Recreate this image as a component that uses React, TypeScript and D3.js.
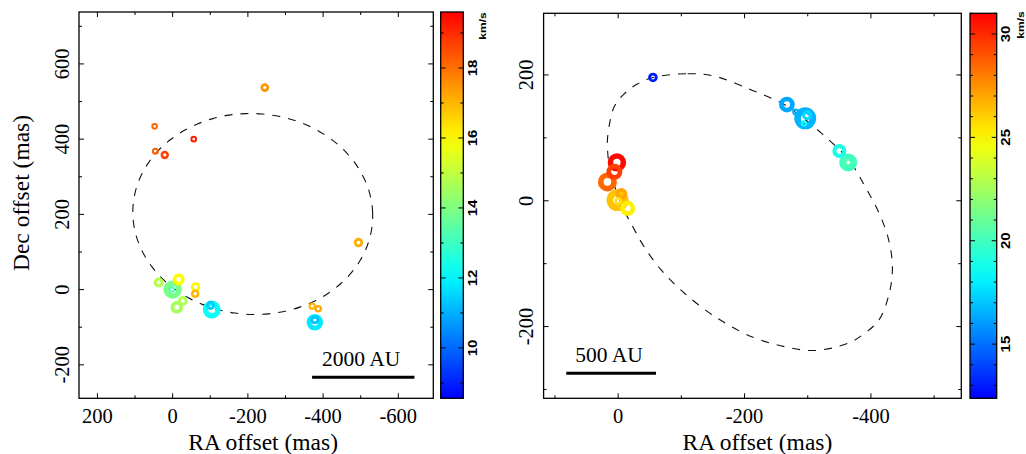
import React from "react";
import * as d3 from "d3";

// ---------- Left panel data (mas, km/s, arbitrary flux) ----------
const L_RA = [-245, 48, 46, 21, -56, -494, 37, 0, 2, -16, -61, -60, -27, -11, -104, -101, -371, -387, -378, -378];
const L_DEC = [537, 434, 368, 358, 400, 125, 19, 0, 0, 27, 7, -11, -30, -47, -53, -42, -44, -51, -87, -80];
const L_VEL = [17.5, 18.2, 18.2, 18.7, 19.2, 17.1, 14.8, 13.9, 13.2, 16.0, 16.1, 17.0, 14.7, 14.6, 12.2, 11.4, 17.0, 17.2, 11.8, 11.2];
const L_FLUX = [14, 6.4, 7.7, 13, 6.4, 18, 21, 93, 6, 33, 18, 14, 19, 38, 88, 16, 9, 10, 73, 16];

// fitted ellipse (centre RA, centre Dec, semi-axes, rotation deg)
const L_ELLIPSE = { ra0: -213, dec0: 201, a: 319, b: 267, rot: -3 };

// ---------- Right panel data ----------
const R_RA = [-55, -267, -296, -281, -299, -294, -350, -364, -364, 2, 6, 17, 1, -5, -15, 0];
const R_DEC = [196, 153, 131, 141, 136, 123, 79, 61, 61, 61, 46, 30, 1, 11, -12, 0];
const R_VEL = [13.0, 16.3, 16.6, 16.5, 17.4, 18.5, 19.0, 20.0, 20.4, 30.8, 29.5, 28.5, 26.3, 27.0, 25.2, 25.6];
const R_FLUX = [19, 65, 139, 8, 20, 6, 49, 88, 14, 93, 67, 100, 139, 33, 58, 10];

// orbit curve
const R_CURVE_RA = [-55, -110, -153, -211, -259, -291, -322, -365, -391, -413, -428, -434, -429, -413, -391, -365, -312, -264, -211, -153, -105, -68, -41, -23, -9.5, 11.7, 17, 16, 6.5, -9.6, -31];
const R_CURVE_DEC = [196, 202, 198, 176, 155, 133, 107, 65, 22, -20, -62, -105, -147, -189, -210, -226, -238, -232, -216, -184, -147, -110, -73, -41, -15, 43, 86, 107, 149, 170, 186];

// ---------- axes ----------
const L_XMAJOR = [200, 0, -200, -400, -600];
const L_XMINOR = [100, -100, -300, -500];
const L_YMAJOR = [-200, 0, 200, 400, 600];
const L_YMINOR = [-100, 100, 300, 500, 700];
const L_CBMAJOR = [10, 12, 14, 16, 18];
const L_CBMINOR = [9, 11, 13, 15, 17, 19];

const R_XMAJOR = [0, -200, -400];
const R_XMINOR = [100, -100, -300, -500];
const R_YMAJOR = [-200, 0, 200];
const R_YMINOR = [-300, -100, 100];
const R_CBMAJOR = [15, 20, 25, 30];
const R_CBMINOR = [13, 14, 16, 17, 18, 19, 21, 22, 23, 24, 26, 27, 28, 29, 31];

const jet = d3
  .scaleLinear<string>()
  .domain([0, 0.32, 0.67, 1])
  .range(["rgb(0,0,255)", "rgb(0,255,255)", "rgb(255,255,0)", "rgb(255,0,0)"])
  .interpolate(d3.interpolateRgb)
  .clamp(true);

const SERIF = "'Liberation Serif', 'Times New Roman', serif";
const SANS = "'Liberation Sans', Arial, sans-serif";

type PanelProps = {
  id: string;
  x0: number; x1: number; y0: number; y1: number;
  xDom: [number, number]; yDom: [number, number];
  xMajor: number[]; xMinor: number[]; yMajor: number[]; yMinor: number[];
  ra: number[]; dec: number[]; vel: number[]; flux: number[];
  vDom: [number, number];
  cb: { x0: number; x1: number; y0: number; y1: number };
  cbMajor: number[]; cbMinor: number[];
  curve: [number, number][];
  bar: { raA: number; raB: number; dec: number; label: string };
  showYLabel: boolean;
};

function Panel(p: PanelProps) {
  const x = d3.scaleLinear().domain(p.xDom).range([p.x0, p.x1]);
  const y = d3.scaleLinear().domain(p.yDom).range([p.y1, p.y0]);
  const cbY = d3.scaleLinear().domain(p.vDom).range([p.cb.y1, p.cb.y0]);
  const rScale = d3.scaleSqrt().domain([0, 100]).range([0, 8.3]);
  const radius = (f: number) => 1.2 + rScale(f);
  const frac = (v: number) => (v - p.vDom[0]) / (p.vDom[1] - p.vDom[0]);

  const line = d3
    .line<[number, number]>()
    .x((d) => x(d[0]))
    .y((d) => y(d[1]))
    .curve(d3.curveCatmullRomClosed.alpha(0.5));

  const idx = d3.range(p.ra.length).sort((a, b) => p.flux[b] - p.flux[a]);
  const MAJ = 5, MIN = 3;
  const stops = d3.range(0, 1.0001, 0.05);

  return (
    <g>
      <defs>
        <linearGradient id={p.id + "grad"} x1="0" y1="1" x2="0" y2="0">
          {stops.map((s) => (
            <stop key={s} offset={s} stopColor={jet(s)} />
          ))}
        </linearGradient>
        <clipPath id={p.id + "clip"}>
          <rect x={p.x0} y={p.y0} width={p.x1 - p.x0} height={p.y1 - p.y0} />
        </clipPath>
      </defs>

      <g clipPath={`url(#${p.id}clip)`}>
        <path d={line(p.curve) || ""} fill="none" stroke="#111" strokeWidth={1.1} strokeDasharray="8,8" />
        {idx.map((i) => {
          const R = radius(p.flux[i]);
          return (
            <circle
              key={i}
              cx={x(p.ra[i])}
              cy={y(p.dec[i])}
              r={R * 0.7}
              fill="none"
              stroke={jet(frac(p.vel[i]))}
              strokeWidth={R * 0.6}
            />
          );
        })}
        <line x1={x(p.bar.raA)} x2={x(p.bar.raB)} y1={y(p.bar.dec)} y2={y(p.bar.dec)} stroke="#000" strokeWidth={3} />
        <text
          x={(x(p.bar.raA) + x(p.bar.raB)) / 2 - 2}
          y={y(p.bar.dec) - 11}
          textAnchor="middle"
          fontFamily={SERIF}
          fontSize={21.5}
        >
          {p.bar.label}
        </text>
      </g>

      {/* frame ticks */}
      <g stroke="#000" strokeWidth={1}>
        {p.xMajor.concat(p.xMinor).map((v) => {
          const L = p.xMajor.includes(v) ? MAJ : MIN;
          return (
            <g key={"x" + v}>
              <line x1={x(v)} x2={x(v)} y1={p.y1} y2={p.y1 - L} />
              <line x1={x(v)} x2={x(v)} y1={p.y0} y2={p.y0 + L} />
            </g>
          );
        })}
        {p.yMajor.concat(p.yMinor).map((v) => {
          const L = p.yMajor.includes(v) ? MAJ : MIN;
          return (
            <g key={"y" + v}>
              <line x1={p.x0} x2={p.x0 + L} y1={y(v)} y2={y(v)} />
              <line x1={p.x1} x2={p.x1 - L} y1={y(v)} y2={y(v)} />
            </g>
          );
        })}
      </g>
      <rect x={p.x0} y={p.y0} width={p.x1 - p.x0} height={p.y1 - p.y0} fill="none" stroke="#000" strokeWidth={1.3} />

      {/* tick labels */}
      {p.xMajor.map((v) => (
        <text key={"xl" + v} x={x(v)} y={423} textAnchor="middle" fontFamily={SERIF} fontSize={20.5}>
          {String(v)}
        </text>
      ))}
      {p.yMajor.map((v) => (
        <text
          key={"yl" + v}
          transform={`translate(${p.x0 - 10.5},${y(v)}) rotate(-90)`}
          textAnchor="middle"
          fontFamily={SERIF}
          fontSize={20.5}
        >
          {String(v)}
        </text>
      ))}
      <text x={(p.x0 + p.x1) / 2 + (p.showYLabel ? 7 : 5)} y={450} textAnchor="middle" fontFamily={SERIF} fontSize={23.5}>
        RA offset (mas)
      </text>
      {p.showYLabel && (
        <text transform={`translate(28.5,193) rotate(-90)`} textAnchor="middle" fontFamily={SERIF} fontSize={23.5}>
          Dec offset (mas)
        </text>
      )}

      {/* colour bar */}
      <rect x={p.cb.x0} y={p.cb.y0} width={p.cb.x1 - p.cb.x0} height={p.cb.y1 - p.cb.y0} fill={`url(#${p.id}grad)`} />
      <g stroke="#000" strokeWidth={1}>
        {p.cbMajor.concat(p.cbMinor).map((v) => {
          const L = p.cbMajor.includes(v) ? MAJ : MIN;
          return (
            <g key={"c" + v}>
              <line x1={p.cb.x0} x2={p.cb.x0 + L} y1={cbY(v)} y2={cbY(v)} />
              <line x1={p.cb.x1} x2={p.cb.x1 - L} y1={cbY(v)} y2={cbY(v)} />
            </g>
          );
        })}
      </g>
      <rect x={p.cb.x0} y={p.cb.y0} width={p.cb.x1 - p.cb.x0} height={p.cb.y1 - p.cb.y0} fill="none" stroke="#000" strokeWidth={1.3} />
      {p.cbMajor.map((v) => (
        <text
          key={"cl" + v}
          transform={`translate(${p.cb.x1 + 13.5},${cbY(v)}) rotate(-90) scale(1.25,1)`}
          textAnchor="middle"
          fontFamily={SANS}
          fontSize={12}
          fontWeight="bold"
        >
          {String(v)}
        </text>
      ))}
    </g>
  );
}

function ellipsePoints(e: typeof L_ELLIPSE, n: number): [number, number][] {
  const th = (e.rot * Math.PI) / 180;
  return d3.range(n).map((k) => {
    const t = (2 * Math.PI * k) / n;
    const X = e.a * Math.cos(t), Y = e.b * Math.sin(t);
    const dx = X * Math.cos(th) - Y * Math.sin(th);
    const dy = X * Math.sin(th) + Y * Math.cos(th);
    return [e.ra0 - dx, e.dec0 + dy] as [number, number];
  });
}

export default function App() {
  const rightCurve = R_CURVE_RA.map((r, i) => [r, R_CURVE_DEC[i]] as [number, number]);
  return (
    <svg width={1026} height={454} style={{ position: "absolute", left: 0, top: 0, background: "#fff" }}>
      <rect width={1026} height={454} fill="#fff" />
      <Panel
        id="L"
        x0={79} x1={433.3} y0={12} y1={398.3}
        xDom={[249, -693]} yDom={[-289, 738]}
        xMajor={L_XMAJOR} xMinor={L_XMINOR} yMajor={L_YMAJOR} yMinor={L_YMINOR}
        ra={L_RA} dec={L_DEC} vel={L_VEL} flux={L_FLUX}
        vDom={[8.56, 19.6]}
        cb={{ x0: 440.7, x1: 463.3, y0: 12, y1: 398.3 }}
        cbMajor={L_CBMAJOR} cbMinor={L_CBMINOR}
        curve={ellipsePoints(L_ELLIPSE, 90)}
        bar={{ raA: -370.7, raB: -642.8, dec: -233, label: "2000 AU" }}
        showYLabel={true}
      />
      <text transform="translate(486,26) rotate(-90) scale(1.27,1)" textAnchor="middle" fontFamily={SANS} fontSize={9.5} fontWeight="bold">
        km/s
      </text>
      <Panel
        id="R"
        x0={543.6} x1={961.3} y0={13.3} y1={398.3}
        xDom={[118, -543]} yDom={[-314, 298]}
        xMajor={R_XMAJOR} xMinor={R_XMINOR} yMajor={R_YMAJOR} yMinor={R_YMINOR}
        ra={R_RA} dec={R_DEC} vel={R_VEL} flux={R_FLUX}
        vDom={[12.38, 31]}
        cb={{ x0: 970, x1: 996.7, y0: 13.3, y1: 398.3 }}
        cbMajor={R_CBMAJOR} cbMinor={R_CBMINOR}
        curve={rightCurve}
        bar={{ raA: 82.2, raB: -59.9, dec: -274, label: "500 AU" }}
        showYLabel={false}
      />
      <text transform="translate(1024,25) rotate(-90) scale(1.27,1)" textAnchor="middle" fontFamily={SANS} fontSize={9.5} fontWeight="bold">
        km/s
      </text>
    </svg>
  );
}
